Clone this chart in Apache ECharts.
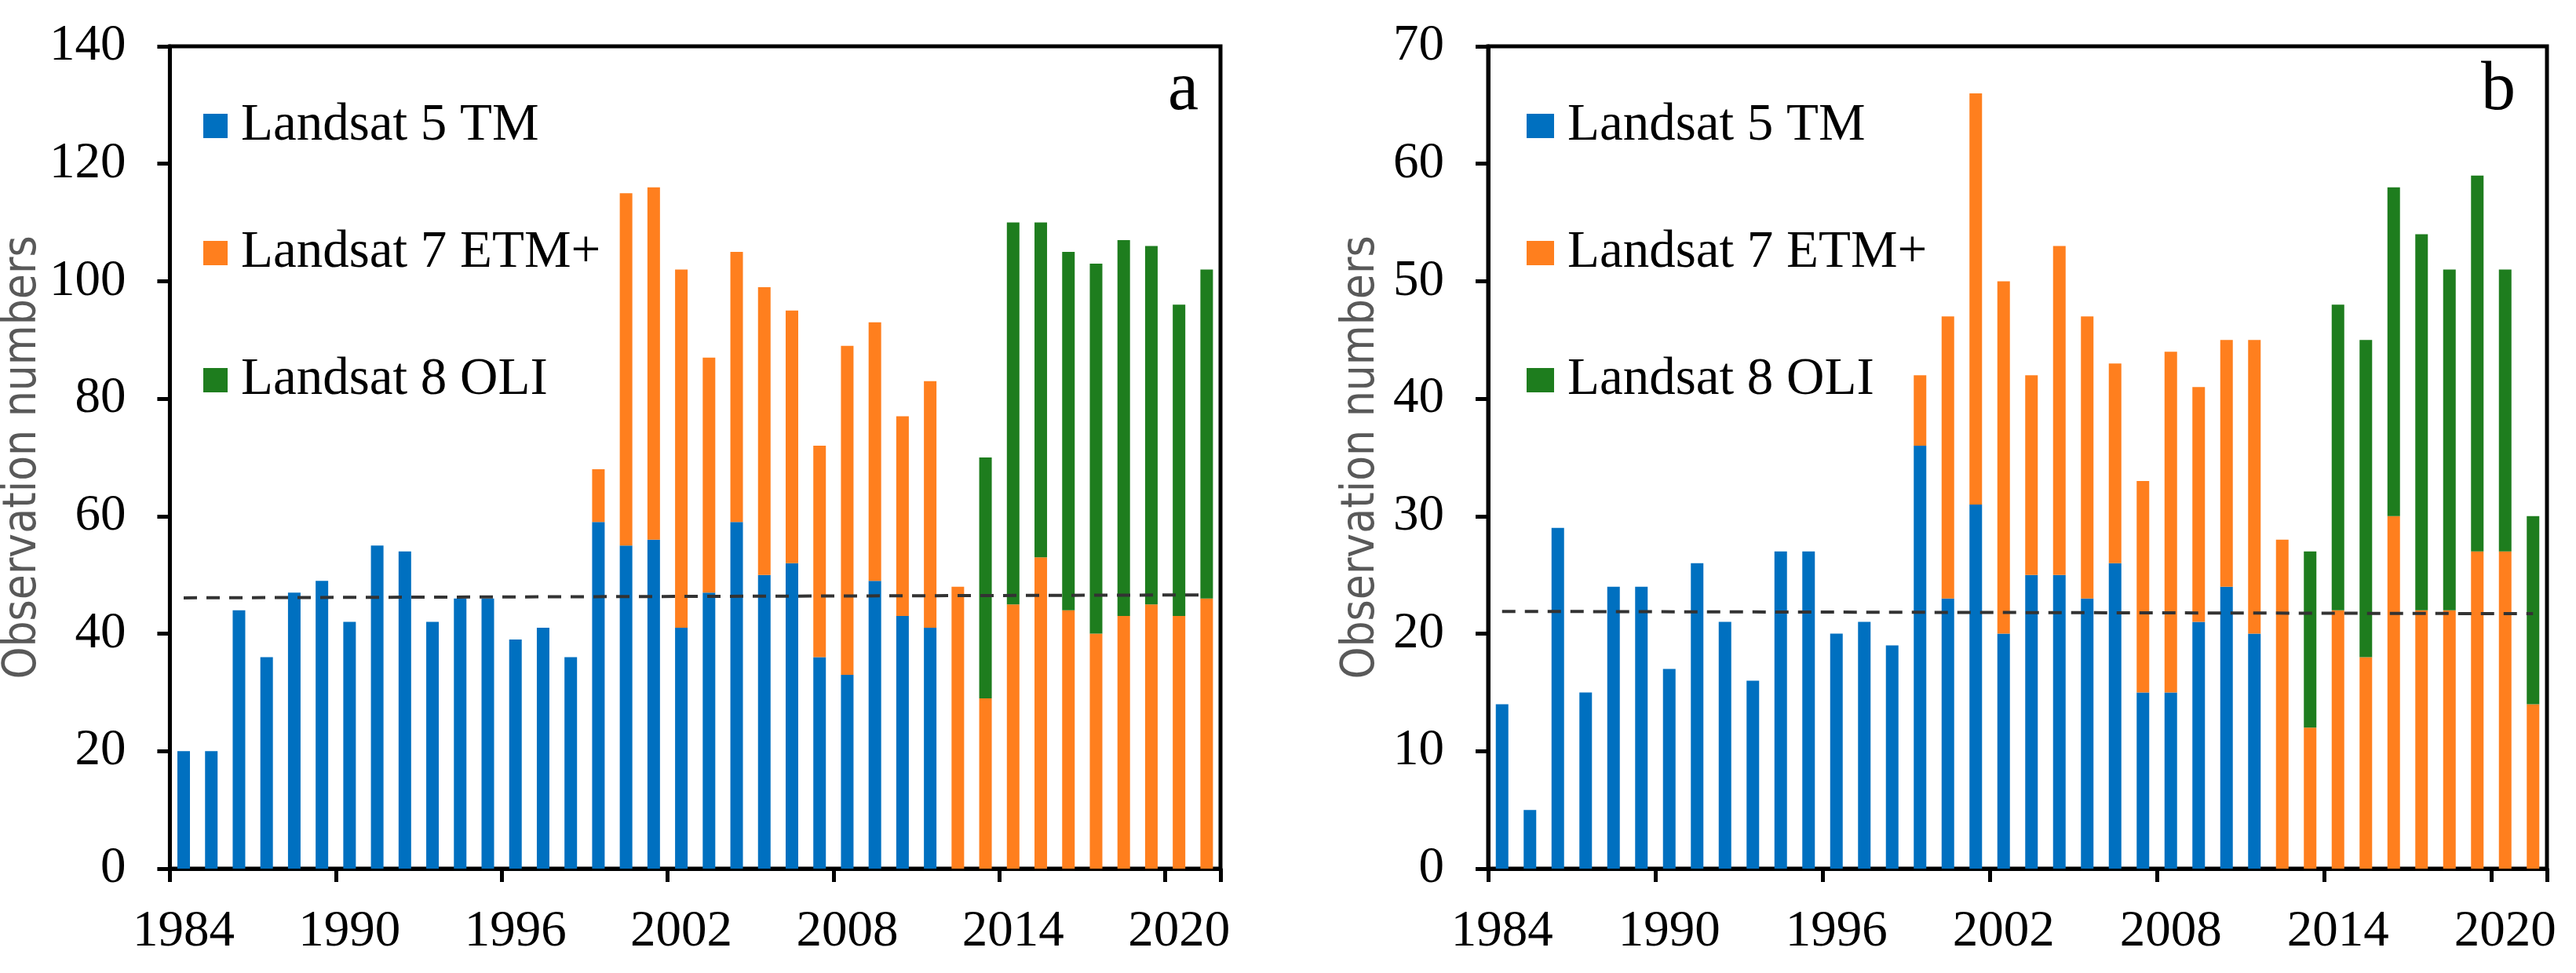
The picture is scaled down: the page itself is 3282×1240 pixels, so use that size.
<!DOCTYPE html>
<html>
<head>
<meta charset="utf-8">
<script src="https://cdn.jsdelivr.net/npm/echarts@6/dist/echarts.min.js"></script>
<style>
html,body{margin:0;padding:0;background:#fff;}
#chart{width:3282px;height:1240px;}
</style>
</head>
<body>
<div id="chart"></div>
<script>
// ---------- DATA ----------
var years = [];
for (var y = 1984; y <= 2021; y++) years.push(String(y));

var seriesNames = ['Landsat 5 TM', 'Landsat 7 ETM+', 'Landsat 8 OLI'];

// Panel a
var tmA  = [20,20,44,36,47,49,42,55,54,42,46,46,39,41,36,59,55,56,41,47,59,50,52,36,33,49,43,41,
            null,null,null,null,null,null,null,null,null,null];
var etmA = [null,null,null,null,null,null,null,null,null,null,null,null,null,null,null,
            9,60,60,61,40,46,49,43,36,56,44,34,42,48,29,45,53,44,40,43,45,43,46];
var oliA = [null,null,null,null,null,null,null,null,null,null,null,null,null,null,null,
            null,null,null,null,null,null,null,null,null,null,null,null,null,null,
            41,65,57,61,63,64,61,53,56];
var refLineA = [46.1, 46.6];

// Panel b
var tmB  = [14,5,29,15,24,24,17,26,21,16,27,27,20,21,19,36,23,31,20,25,25,23,26,15,15,21,24,20,
            null,null,null,null,null,null,null,null,null,null];
var etmB = [null,null,null,null,null,null,null,null,null,null,null,null,null,null,null,
            6,24,35,30,17,28,24,17,18,29,20,21,25,28,12,22,18,30,22,22,27,27,14];
var oliB = [null,null,null,null,null,null,null,null,null,null,null,null,null,null,null,
            null,null,null,null,null,null,null,null,null,null,null,null,null,null,
            15,26,27,28,32,29,32,24,16];
var refLineB = [21.9, 21.7];

var yMaxA = 140, yStepA = 20;
var yMaxB = 70,  yStepB = 10;

// ---------- STYLE ----------
var colors = ['#0070C0', '#FF7F1E', '#1E7D1E'];
var serif = "'Liberation Serif','Times New Roman',serif";
var titleFont = "'Liberation Sans Narrow','DejaVu Sans Condensed',Roboto,sans-serif";

function xAxis(gi) {
  return {
    type: 'category', gridIndex: gi, data: years, boundaryGap: true,
    axisLine: {show: true, lineStyle: {color: '#000', width: 5}},
    axisTick: {show: true, interval: 5, length: 17, lineStyle: {color: '#000', width: 5}},
    axisLabel: {interval: 5, fontFamily: serif, fontSize: 65, color: '#000', margin: 48},
    splitLine: {show: false}
  };
}
function yAxis(gi, max, step, gap) {
  return {
    type: 'value', gridIndex: gi, min: 0, max: max, interval: step,
    name: 'Observation numbers', nameLocation: 'middle', nameGap: gap,
    nameTextStyle: {fontFamily: titleFont, fontSize: 58, color: '#595959'},
    axisLine: {show: true, lineStyle: {color: '#000', width: 5}},
    axisTick: {show: true, inside: false, length: 16, lineStyle: {color: '#000', width: 5}},
    axisLabel: {fontFamily: serif, fontSize: 65, color: '#000', margin: 56},
    splitLine: {show: false}
  };
}
function bars(gi, stack, arrs, ref) {
  var out = [];
  for (var i = 0; i < 3; i++) {
    var s = {
      name: seriesNames[i], type: 'bar', stack: stack,
      xAxisIndex: gi, yAxisIndex: gi, data: arrs[i], barWidth: 16,
      itemStyle: {color: colors[i]}, emphasis: {disabled: true}
    };
    if (i === 2) {
      s.markLine = {
        silent: true, symbol: ['none', 'none'],
        label: {show: false},
        lineStyle: {color: '#333333', width: 4, type: [17, 12]},
        data: [[{coord: [years[0], ref[0]]}, {coord: [years[years.length - 1], ref[1]]}]]
      };
    }
    out.push(s);
  }
  return out;
}
function legend(left, iw) {
  return {
    orient: 'vertical', left: left, top: 127, padding: 0,
    itemWidth: iw, itemHeight: 31, itemGap: 95, icon: 'rect',
    selectedMode: false,
    textStyle: {fontFamily: serif, fontSize: 67, color: '#000', lineHeight: 31, padding: [0, 0, 0, 12]},
    data: seriesNames
  };
}

var chart = echarts.init(document.getElementById('chart'), null, {renderer: 'canvas'});
chart.setOption({
  animation: false,
  backgroundColor: '#fff',
  title: [
    {text: 'a', right: 1755, top: 72, padding: 0, textStyle: {fontFamily: serif, fontSize: 88, fontWeight: 'normal', color: '#000'}},
    {text: 'b', right: 77, top: 72, padding: 0, textStyle: {fontFamily: serif, fontSize: 88, fontWeight: 'normal', color: '#000'}}
  ],
  legend: [legend(259, 31), legend(1945, 35)],
  grid: [
    {left: 205, top: 59, width: 1350, height: 1048, show: true, borderColor: '#000', borderWidth: 5, backgroundColor: 'transparent'},
    {left: 1896, top: 59, width: 1349, height: 1048, show: true, borderColor: '#000', borderWidth: 5, backgroundColor: 'transparent'}
  ],
  xAxis: [xAxis(0), xAxis(1)],
  yAxis: [yAxis(0, yMaxA, yStepA, 132), yAxis(1, yMaxB, yStepB, 132)],
  series: bars(0, 'a', [tmA, etmA, oliA], refLineA).concat(bars(1, 'b', [tmB, etmB, oliB], refLineB))
});
</script>
</body>
</html>
